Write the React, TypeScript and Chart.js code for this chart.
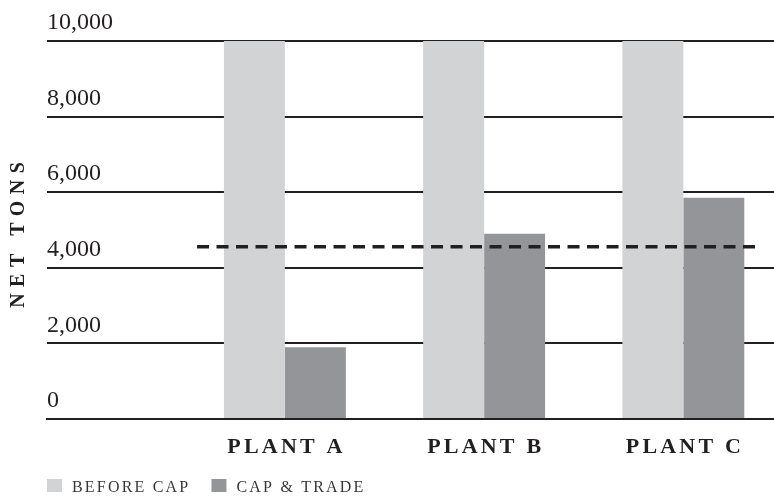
import React, { useEffect, useRef } from "react";
import { Chart, registerables } from "chart.js";

Chart.register(...registerables);

const CATEGORIES = ["PLANT A", "PLANT B", "PLANT C"];
const BEFORE_CAP = [10000, 10000, 10000];
const CAP_AND_TRADE = [1900, 4900, 5850];
const CAP_LIMIT = 4560;
const Y_TICKS = [0, 2000, 4000, 6000, 8000, 10000];
const SERIES_NAMES = ["BEFORE CAP", "CAP & TRADE"];
const AXIS_TITLE = "NET TONS";

const LIGHT = "#d1d3d4";
const DARK = "#939598";
const INK = "#231f20";
const FONT = "'Liberation Serif', 'DejaVu Serif', serif";

// x-scale window (in category units) and reference line extent
const X_MIN = -1.194;
const X_MAX = 2.455;
const CAP_LINE_FROM = -0.441;
const CAP_LINE_TO = 2.369;

const overlay = {
  id: "overlay",
  afterDraw(chart: any) {
    const ctx = chart.ctx as CanvasRenderingContext2D & { letterSpacing?: string };
    const xs = chart.scales.x;
    const ys = chart.scales.y;
    const area = chart.chartArea;

    // dashed cap line
    ctx.save();
    ctx.strokeStyle = INK;
    ctx.lineWidth = 3.5;
    ctx.setLineDash([12, 7.5]);
    const yy = ys.getPixelForValue(CAP_LIMIT);
    ctx.beginPath();
    ctx.moveTo(xs.getPixelForValue(CAP_LINE_FROM), yy);
    ctx.lineTo(xs.getPixelForValue(CAP_LINE_TO), yy);
    ctx.stroke();
    ctx.restore();

    // category labels
    ctx.save();
    ctx.fillStyle = INK;
    ctx.font = `bold 22px ${FONT}`;
    ctx.letterSpacing = "3.2px";
    ctx.textAlign = "center";
    ctx.textBaseline = "alphabetic";
    CATEGORIES.forEach((c, i) => {
      ctx.fillText(c, xs.getPixelForValue(i) + 1.6, area.bottom + 34);
    });
    ctx.restore();

    // y title
    ctx.save();
    ctx.fillStyle = INK;
    ctx.font = `bold 20px ${FONT}`;
    ctx.letterSpacing = "6.5px";
    ctx.textAlign = "center";
    ctx.textBaseline = "middle";
    ctx.translate(18.5, (area.top + area.bottom) / 2 + 5);
    ctx.rotate(-Math.PI / 2);
    ctx.fillText(AXIS_TITLE, 3.25, 0);
    ctx.restore();

    // legend
    ctx.save();
    ctx.font = `16px ${FONT}`;
    ctx.letterSpacing = "2.2px";
    ctx.textAlign = "left";
    ctx.textBaseline = "alphabetic";
    const colors = [LIGHT, DARK];
    let lx = area.left;
    SERIES_NAMES.forEach((name, i) => {
      ctx.fillStyle = colors[i];
      ctx.fillRect(lx, 479, 15, 13);
      ctx.fillStyle = "#3a3637";
      ctx.fillText(name, lx + 25, 492);
      lx += 25 + ctx.measureText(name).width + 25 - 4;
    });
    ctx.restore();
  },
};

export default function App() {
  const ref = useRef<HTMLCanvasElement>(null);
  useEffect(() => {
    document.body.style.margin = "0";
    const chart = new Chart(ref.current!, {
      type: "bar",
      data: {
        datasets: [
          {
            label: SERIES_NAMES[0],
            data: BEFORE_CAP.map((v, i) => ({ x: i, y: v })),
            backgroundColor: LIGHT,
            borderWidth: 0,
          },
          {
            label: SERIES_NAMES[1],
            data: CAP_AND_TRADE.map((v, i) => ({ x: i, y: v })),
            backgroundColor: DARK,
            borderWidth: 0,
          },
        ],
      },
      options: {
        responsive: false,
        animation: false,
        categoryPercentage: 0.612,
        barPercentage: 1,
        layout: { padding: { left: 47, right: 0, top: 41, bottom: 77 } },
        plugins: { legend: { display: false }, tooltip: { enabled: false } },
        scales: {
          x: {
            type: "linear",
            offset: false,
            min: X_MIN,
            max: X_MAX,
            afterBuildTicks: (s: any) => {
              s.ticks = CATEGORIES.map((_, i) => ({ value: i }));
            },
            ticks: { display: false },
            grid: { display: false, drawTicks: false, offset: false },
            border: { display: true, color: INK, width: 2, z: 1 },
          },
          y: {
            min: 0,
            max: 10000,
            afterBuildTicks: (s: any) => {
              s.ticks = Y_TICKS.map((v) => ({ value: v }));
            },
            ticks: {
              mirror: true,
              padding: 0,
              labelOffset: -18,
              color: INK,
              font: { family: FONT, size: 24 },
              callback: (v: any) => Number(v).toLocaleString("en-US"),
            },
            grid: { color: INK, lineWidth: 2, drawTicks: false },
            border: { display: false },
          },
        },
      },
      plugins: [overlay],
    } as any);
    return () => chart.destroy();
  }, []);
  return (
    <div style={{ width: 774, height: 496 }}>
      <canvas ref={ref} width={774} height={496} />
    </div>
  );
}
